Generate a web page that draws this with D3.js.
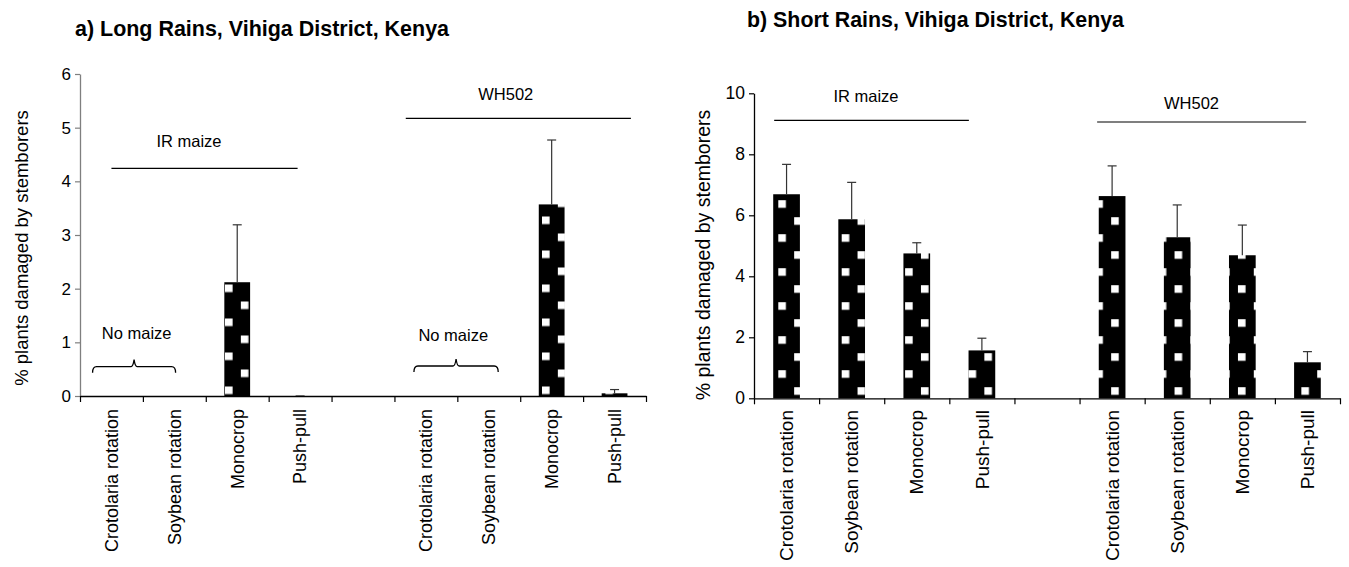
<!DOCTYPE html>
<html><head><meta charset="utf-8">
<script src="https://cdn.jsdelivr.net/npm/d3@7"></script>
<style>body{margin:0;background:#fff}svg{display:block}text{font-family:"Liberation Sans",Arial,sans-serif;fill:#000}</style>
</head><body><svg id="c" width="1349" height="567"></svg>
<script>
// ---------------- data ----------------
const categories = ["Crotolaria rotation","Soybean rotation","Monocrop","Push-pull","","Crotolaria rotation","Soybean rotation","Monocrop","Push-pull"];
const longRainsMeans = [0, 0, 2.12, 0, null, 0, 0, 3.57, 0.05];
const longRainsSE    = [null, null, 1.07, 0, null, null, null, 1.20, 0.07];
const shortRainsMeans = [6.69, 5.87, 4.75, 1.57, null, 6.63, 5.28, 4.69, 1.18];
const shortRainsSE    = [0.98, 1.21, 0.35, 0.40, null, 0.99, 1.06, 0.99, 0.35];
const longTicks = [0, 1, 2, 3, 4, 5, 6];
const shortTicks = [0, 2, 4, 6, 8, 10];
const titles = ["a) Long Rains, Vihiga District, Kenya", "b) Short Rains, Vihiga District, Kenya"];
const yTitle = "% plants damaged by stemborers";
const groupLabels = ["IR maize", "WH502"];
const noMaizeLabel = "No maize";

// ---------------- layout ----------------
const svg = d3.select("#c");
svg.append("rect").attr("width",1349).attr("height",567).attr("fill","#fff");
const defs = svg.append("defs");

const panels = [
  { means: longRainsMeans, se: longRainsSE, ticks: longTicks, yMax: 6, title: titles[0],
    x0: 80, x1: 646, yBottom: 396, yTop: 74, tickFont: 17, xlabFont: 18, ylabFont: 18.5,
    ylabX: 28, ylabY: 248, titleX: 75, titleY: 36, titleW: 374, yAxisColor: "#7f7f7f",
    pat: {id: "dotsA", x: 225, y: 284.5}, xLabTop: 409,
    groups: [ {label: 0, y: 168.3, from: [0, 0.5], to: [3, 0.46], lx: 189, ly: 147},
              {label: 1, y: 118.3, from: [5, 0.18], to: [8, 0.76], lx: 505.8, ly: 100} ],
    braces: [ {from: [0, 0.2], to: [1, 0.52], y: 366.7, lx: 136.7, ly: 339},
              {from: [5, 0.31], to: [6, 0.65], y: 366, lx: 453.3, ly: 341} ] },
  { means: shortRainsMeans, se: shortRainsSE, ticks: shortTicks, yMax: 10, title: titles[1],
    x0: 754, x1: 1340, yBottom: 398.3, yTop: 93.3, tickFont: 17.5, xlabFont: 19, ylabFont: 19.5,
    ylabX: 710, ylabY: 255, titleX: 747, titleY: 27, titleW: 377, yAxisColor: "#000",
    pat: {id: "dotsB", x: 778.3, y: 200.2}, xLabTop: 410,
    groups: [ {label: 0, y: 120.4, from: [0, 0.31], to: [3, 0.3], lx: 866, ly: 102},
              {label: 1, y: 122, from: [5, 0.27], to: [8, 0.48], lx: 1191.5, ly: 109} ],
    braces: [] }
];

panels.forEach(p => {
  // pattern: black with staggered white squares
  const pw = 31.7, ph = 34, sq = 7.6;
  const pat = defs.append("pattern").attr("id", p.pat.id).attr("patternUnits", "userSpaceOnUse")
    .attr("x", p.pat.x).attr("y", p.pat.y).attr("width", pw).attr("height", ph);
  pat.append("rect").attr("width", pw).attr("height", ph).attr("fill", "#000");
  pat.append("rect").attr("x", 0).attr("y", 0).attr("width", sq).attr("height", sq).attr("fill", "#fff");
  pat.append("rect").attr("x", pw/2).attr("y", ph/2).attr("width", sq).attr("height", sq).attr("fill", "#fff");

  const idx = d3.range(categories.length);
  const x = d3.scaleBand().domain(idx).range([p.x0, p.x1]).paddingInner(0).paddingOuter(0);
  const y = d3.scaleLinear().domain([0, p.yMax]).range([p.yBottom, p.yTop]);
  const bw = x.bandwidth();
  const barW = bw * 0.41;
  const g = svg.append("g");

  // bars
  const data = idx.map(i => ({i, v: p.means[i], e: p.se[i]}));
  g.selectAll("rect.bar").data(data.filter(d => d.v != null && d.v > 0)).join("rect")
    .attr("class", "bar")
    .attr("x", d => x(d.i) + bw/2 - barW/2).attr("width", barW)
    .attr("y", d => y(d.v)).attr("height", d => y(0) - y(d.v))
    .attr("fill", `url(#${p.pat.id})`);

  // error bars (upper only)
  const eb = data.filter(d => d.v != null && d.e != null);
  g.selectAll("line.err").data(eb).join("line").attr("class", "err")
    .attr("x1", d => x(d.i) + bw/2).attr("x2", d => x(d.i) + bw/2)
    .attr("y1", d => y(d.v)).attr("y2", d => y(d.v + d.e))
    .attr("stroke", "#333").attr("stroke-width", 1.2);
  g.selectAll("line.cap").data(eb).join("line").attr("class", "cap")
    .attr("x1", d => x(d.i) + bw/2 - 4.5).attr("x2", d => x(d.i) + bw/2 + 4.5)
    .attr("y1", d => y(d.v + d.e)).attr("y2", d => y(d.v + d.e))
    .attr("stroke", "#333").attr("stroke-width", 1.2);

  // y axis
  const ya = g.append("g").attr("transform", `translate(${p.x0},0)`)
    .call(d3.axisLeft(y).tickValues(p.ticks).tickFormat(d3.format("d")).tickSize(5).tickSizeOuter(0).tickPadding(4));
  ya.select(".domain").attr("stroke", p.yAxisColor).attr("stroke-width", 1.3);
  ya.selectAll(".tick line").attr("stroke", p.yAxisColor).attr("stroke-width", 1.2);
  ya.selectAll(".tick text").style("font-size", p.tickFont + "px").attr("fill", "#111")
    .style("font-family", "'Liberation Sans',Arial,sans-serif");

  // x axis: ticks at band boundaries
  const xb = d3.scaleLinear().domain([0, categories.length]).range([p.x0, p.x1]);
  const xa = g.append("g").attr("transform", `translate(0,${p.yBottom})`)
    .call(d3.axisBottom(xb).tickValues(d3.range(categories.length + 1)).tickSize(6).tickSizeOuter(0).tickFormat(""));
  xa.select(".domain").attr("stroke", "#000").attr("stroke-width", 1.3);
  xa.selectAll(".tick line").attr("stroke", "#000").attr("stroke-width", 1.2);

  // category labels
  g.selectAll("text.xl").data(idx.filter(i => categories[i] !== "")).join("text")
    .attr("class", "xl")
    .attr("transform", i => `translate(${x(i) + bw/2},${p.xLabTop}) rotate(-90)`)
    .attr("text-anchor", "end").attr("dy", "0.35em")
    .style("font-size", p.xlabFont + "px")
    .text(i => categories[i]);

  // y title
  g.append("text").attr("transform", `translate(${p.ylabX},${p.ylabY}) rotate(-90)`)
    .attr("text-anchor", "middle").style("font-size", p.ylabFont + "px").text(yTitle);

  // title
  g.append("text").attr("x", p.titleX).attr("y", p.titleY)
    .style("font-size", "22px").style("font-weight", "bold")
    .attr("textLength", p.titleW).attr("lengthAdjust", "spacingAndGlyphs")
    .text(p.title);

  // group lines & labels
  p.groups.forEach(gr => {
    const xa0 = x(gr.from[0]) + gr.from[1] * bw, xa1 = x(gr.to[0]) + gr.to[1] * bw;
    g.append("line").attr("x1", xa0).attr("x2", xa1).attr("y1", gr.y).attr("y2", gr.y)
      .attr("stroke", "#000").attr("stroke-width", 1.2);
    g.append("text").attr("x", gr.lx).attr("y", gr.ly).attr("text-anchor", "middle")
      .style("font-size", "16.5px").text(groupLabels[gr.label]);
  });

  // braces
  p.braces.forEach(b => {
    const a = x(b.from[0]) + b.from[1] * bw, c = x(b.to[0]) + b.to[1] * bw, m = (a + c) / 2, yy = b.y;
    const path = `M${a},${yy+6} Q${a},${yy} ${a+4},${yy} L${m-3},${yy} Q${m-1},${yy} ${m},${yy-7} Q${m+1},${yy} ${m+3},${yy} L${c-4},${yy} Q${c},${yy} ${c},${yy+6}`;
    g.append("path").attr("d", path).attr("fill", "none").attr("stroke", "#000").attr("stroke-width", 1.3);
    g.append("text").attr("x", b.lx).attr("y", b.ly).attr("text-anchor", "middle")
      .style("font-size", "16.5px").text(noMaizeLabel);
  });
});
</script></body></html>
